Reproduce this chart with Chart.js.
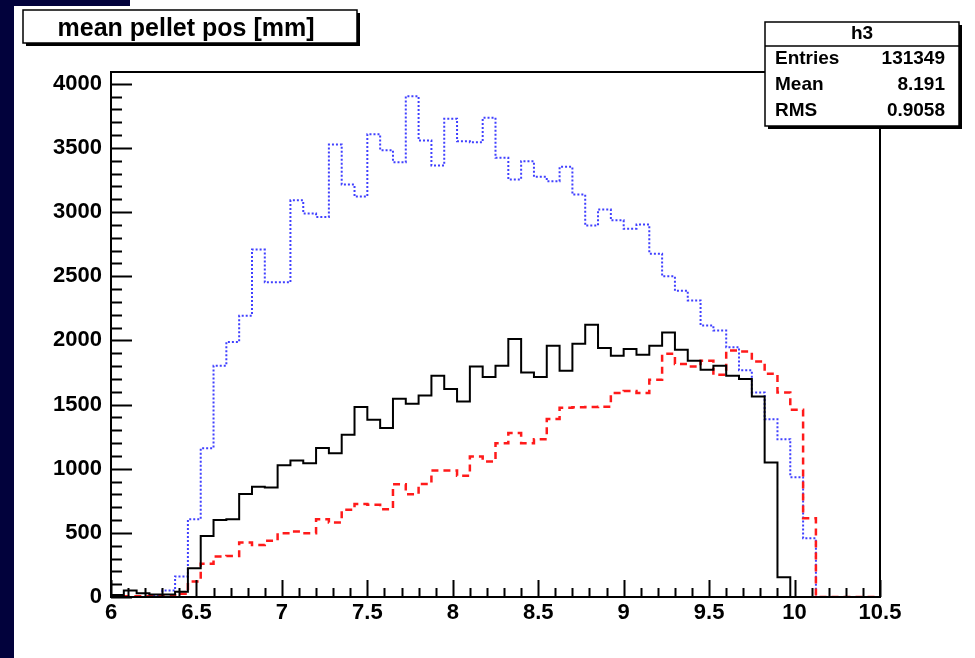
<!DOCTYPE html>
<html>
<head>
<meta charset="utf-8">
<title>mean pellet pos [mm]</title>
<script src="https://cdn.jsdelivr.net/npm/chart.js@4.4.1/dist/chart.umd.min.js"></script>
<style>
  html, body { margin: 0; padding: 0; background: #ffffff; }
  canvas { display: block; }
</style>
</head>
<body>
<canvas id="c" width="975" height="658"></canvas>
<script>
// Histogram bin edges (60 bins of 0.075 mm between 6.0 and 10.5 mm)
const binEdges = [
  6.000, 6.075, 6.150, 6.225, 6.300, 6.375, 6.450, 6.525, 6.600, 6.675,
  6.750, 6.825, 6.900, 6.975, 7.050, 7.125, 7.200, 7.275, 7.350, 7.425,
  7.500, 7.575, 7.650, 7.725, 7.800, 7.875, 7.950, 8.025, 8.100, 8.175,
  8.250, 8.325, 8.400, 8.475, 8.550, 8.625, 8.700, 8.775, 8.850, 8.925,
  9.000, 9.075, 9.150, 9.225, 9.300, 9.375, 9.450, 9.525, 9.600, 9.675,
  9.750, 9.825, 9.900, 9.975, 10.050, 10.125, 10.200, 10.275, 10.350, 10.425,
  10.500
];

// h3: solid black histogram
const h3Counts = [
  15, 50, 30, 20, 20, 40, 225, 476, 600, 605,
  803, 860, 853, 1027, 1063, 1043, 1162, 1121, 1264, 1480,
  1381, 1316, 1544, 1505, 1570, 1724, 1620, 1524, 1797, 1714,
  1802, 2010, 1750, 1714, 1958, 1763, 1973, 2122, 1940, 1880,
  1932, 1888, 1958, 2062, 1927, 1841, 1771, 1802, 1724, 1698,
  1563, 1048, 153, 0, 0, 0, 0, 0, 0, 0
];

// dashed red histogram
const redCounts = [
  5, 5, 5, 5, 10, 25, 120, 260, 315, 320,
  424, 406, 439, 497, 510, 497, 606, 580, 679, 725,
  718, 684, 879, 801, 881, 985, 985, 944, 1094, 1056,
  1199, 1277, 1199, 1230, 1388, 1475, 1478, 1480, 1482, 1589,
  1605, 1589, 1693, 1895, 1815, 1797, 1840, 1732, 1921, 1914,
  1836, 1740, 1594, 1459, 614, 0, 0, 0, 0, 0
];

// dotted blue histogram
const blueCounts = [
  0, 0, 0, 15, 50, 160, 606, 1160, 1802, 1988,
  2192, 2707, 2452, 2452, 3091, 2988, 2962, 3526, 3214, 3120,
  3606, 3482, 3388, 3903, 3557, 3362, 3726, 3552, 3544, 3734,
  3422, 3253, 3396, 3274, 3240, 3352, 3136, 2894, 3019, 2935,
  2870, 2902, 2675, 2499, 2387, 2311, 2116, 2077, 1947, 1766,
  1594, 1386, 1230, 934, 458, 0, 0, 0, 0, 0
];

const xTickLabels = ['6', '6.5', '7', '7.5', '8', '8.5', '9', '9.5', '10', '10.5'];
const yTickLabels = ['0', '500', '1000', '1500', '2000', '2500', '3000', '3500', '4000'];

const titleText = 'mean pellet pos [mm]';
const statsName = 'h3';
const statsRows = [
  ['Entries', '131349'],
  ['Mean', '8.191'],
  ['RMS', '0.9058']
];

// Outline of a histogram: start on the baseline, one point per left bin edge, close at the right edge
function histOutline(counts) {
  const pts = [{ x: binEdges[0], y: 0 }];
  counts.forEach((c, i) => pts.push({ x: binEdges[i], y: c }));
  pts.push({ x: binEdges[binEdges.length - 1], y: counts[counts.length - 1] });
  return pts;
}

const FONT = 'Liberation Sans';

// Page backdrop, axis frame with inward ticks, title and statistics boxes
const rootStyle = {
  id: 'rootStyle',
  beforeDraw(chart) {
    const ctx = chart.ctx;
    ctx.save();
    ctx.fillStyle = '#ffffff';
    ctx.fillRect(0, 0, chart.width, chart.height);
    ctx.fillStyle = '#02023c';
    ctx.fillRect(0, 0, 14, chart.height);
    ctx.fillRect(0, 0, 130, 6);
    ctx.restore();
  },
  afterDatasetsDraw(chart) {
    const { ctx, chartArea: a, scales: { x, y } } = chart;
    ctx.save();
    ctx.strokeStyle = '#000';
    ctx.lineWidth = 2;
    ctx.strokeRect(a.left, a.top, a.right - a.left, a.bottom - a.top);

    ctx.beginPath();
    for (let v = 0; v <= y.max; v += 100) {
      const py = Math.round(y.getPixelForValue(v)) + 0.5;
      const len = v % 500 === 0 ? 21 : 11;
      ctx.moveTo(a.left, py);
      ctx.lineTo(a.left + len, py);
    }
    for (let i = 0; i <= 45; i++) {
      const px = Math.round(x.getPixelForValue(6 + i * 0.1)) + 0.5;
      const len = i % 5 === 0 ? 17 : 9;
      ctx.moveTo(px, a.bottom);
      ctx.lineTo(px, a.bottom - len);
    }
    ctx.stroke();
    ctx.restore();
  },
  afterDraw(chart) {
    const ctx = chart.ctx;
    ctx.save();

    // title box
    ctx.fillStyle = '#000';
    ctx.fillRect(26, 13, 334, 33);
    ctx.fillStyle = '#fff';
    ctx.fillRect(23, 10, 334, 33);
    ctx.strokeStyle = '#000';
    ctx.lineWidth = 1.5;
    ctx.strokeRect(23, 10, 334, 33);
    ctx.fillStyle = '#000';
    ctx.font = 'bold 25px "' + FONT + '"';
    ctx.textAlign = 'center';
    ctx.textBaseline = 'alphabetic';
    ctx.fillText(titleText, 186, 36);

    // statistics box
    const bx = 765, by = 22, bw = 194, bh = 104;
    ctx.fillStyle = '#000';
    ctx.fillRect(bx + 3, by + 3, bw, bh);
    ctx.fillStyle = '#fff';
    ctx.fillRect(bx, by, bw, bh);
    ctx.strokeRect(bx, by, bw, bh);
    ctx.beginPath();
    ctx.moveTo(bx, by + 24);
    ctx.lineTo(bx + bw, by + 24);
    ctx.stroke();

    ctx.fillStyle = '#000';
    ctx.font = 'bold 19px "' + FONT + '"';
    ctx.textBaseline = 'middle';
    ctx.textAlign = 'center';
    ctx.fillText(statsName, bx + bw / 2, by + 12);
    statsRows.forEach((r, i) => {
      const ry = by + 37 + i * 26;
      ctx.textAlign = 'left';
      ctx.fillText(r[0], bx + 10, ry);
      ctx.textAlign = 'right';
      ctx.fillText(r[1], bx + bw - 14, ry);
    });
    ctx.restore();
  }
};

const tickFont = { family: FONT, weight: 'bold', size: 22 };

new Chart(document.getElementById('c'), {
  type: 'line',
  data: {
    datasets: [
      {
        label: 'h3',
        data: histOutline(h3Counts),
        borderColor: '#000000',
        borderWidth: 2,
        stepped: 'before',
        pointRadius: 0,
        fill: false
      },
      {
        label: 'red',
        data: histOutline(redCounts),
        borderColor: '#ff1a1a',
        borderWidth: 2.5,
        borderDash: [7, 5],
        stepped: 'before',
        pointRadius: 0,
        fill: false
      },
      {
        label: 'blue',
        data: histOutline(blueCounts),
        borderColor: '#4040ff',
        borderWidth: 2,
        borderDash: [2, 2],
        stepped: 'before',
        pointRadius: 0,
        fill: false
      }
    ]
  },
  options: {
    responsive: false,
    animation: false,
    devicePixelRatio: 1,
    layout: { padding: { left: 0, top: 72, right: 95, bottom: 0 } },
    plugins: { legend: { display: false }, tooltip: { enabled: false }, title: { display: false } },
    scales: {
      x: {
        type: 'linear',
        min: 6,
        max: 10.5,
        grid: { display: false, drawTicks: false },
        border: { display: false },
        afterBuildTicks: (s) => { s.ticks = xTickLabels.map(t => ({ value: parseFloat(t) })); },
        afterFit: (s) => { s.height = 61; },
        ticks: {
          color: '#000',
          padding: 3,
          maxRotation: 0,
          autoSkip: false,
          font: tickFont,
          callback: (v, i) => xTickLabels[i]
        }
      },
      y: {
        type: 'linear',
        min: 0,
        max: 4091,
        grid: { display: false, drawTicks: false },
        border: { display: false },
        afterBuildTicks: (s) => { s.ticks = yTickLabels.map(t => ({ value: parseFloat(t) })); },
        afterFit: (s) => { s.width = 111; },
        ticks: {
          color: '#000',
          padding: 9,
          autoSkip: false,
          font: tickFont,
          callback: (v, i) => yTickLabels[i]
        }
      }
    }
  },
  plugins: [rootStyle]
});
</script>
</body>
</html>
